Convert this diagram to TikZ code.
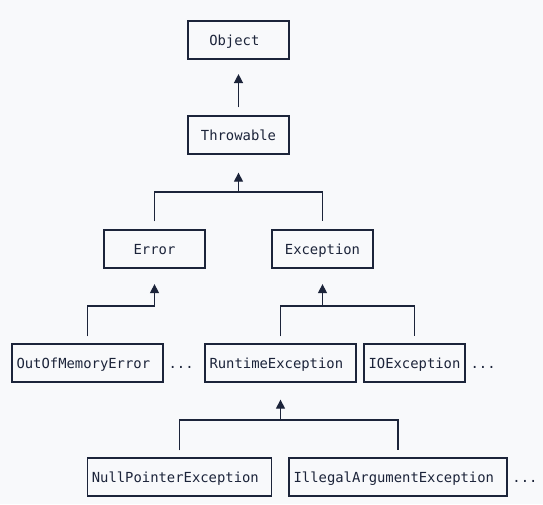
\documentclass[tikz,border=0pt]{standalone}
\usepackage{fontspec}
\setmonofont{DejaVu Sans Mono}
\usetikzlibrary{positioning,arrows.meta}
\definecolor{ink}{RGB}{28,36,58}
\definecolor{paper}{RGB}{248,249,251}
\begin{document}
\begin{tikzpicture}[x=0.75pt, y=-0.75pt,
                box/.style = {draw=ink, line width=1pt, text=ink,
                    font=\ttfamily\fontsize{10.4pt}{12pt}\selectfont,
                    minimum width=75.75pt, minimum height=28.5pt,
                    inner xsep=3.4pt, text height=8pt, text depth=0pt},
                padded/.style = {box, execute at end node={\hphantom{0}}},
                more/.style = {text=ink, inner sep=0pt,
                    font=\ttfamily\fontsize{10.4pt}{12pt}\selectfont},
                link/.style = {draw=ink, line width=1pt},
                inherits/.style = {link, -{Triangle[width=6.8pt, length=6.8pt]}}]
                \fill[paper] (0, 0) rectangle (543, 504);
                \node[padded] (object) at (238.5, 40) {Object};
                \node[box] (throwable) at (238.5, 135) {Throwable};
                \node[box] (error) at (154.5, 249) {Error};
                \node[box] (exception) at (322.5, 249) {Exception};
                \node[padded] (oom) at (87.5, 363) {OutOfMemoryError};
                \node[padded] (runtime) at (280.5, 363) {RuntimeException};
                \node[box] (io) at (414.5, 363) {IOException};
                \node[padded] (npe) at (179.5, 477) {NullPointerException};
                \node[padded] (iae) at (398, 477) {IllegalArgumentException};
                \node[more, base right=3.5pt of oom] (more1) {...};
                \node[more, base right=3.5pt of io] (more2) {...};
                \node[more, base right=3.5pt of iae] (more3) {...};
                \coordinate (j1) at (238.5, 192);
                \coordinate (j2) at (154.5, 306);
                \coordinate (j3) at (322.5, 306);
                \coordinate (j4) at (280.5, 420);
                \draw[inherits, shorten <=6pt, shorten >=10.8pt] (throwable.north) -- (object.south);
                \draw[inherits, shorten <=6pt, shorten >=13.5pt] (error.north) |- (j1) -- (throwable.south);
                \draw[link, shorten >=6pt] (j1) -| (exception.north);
                \draw[inherits, shorten <=5.25pt, shorten >=11.6pt] (oom.north) |- (j2) -- (error.south);
                \draw[inherits, shorten <=5.25pt, shorten >=11.6pt] (runtime.north) |- (j3) -- (exception.south);
                \draw[link, shorten >=5.25pt] (j3) -| (io.north);
                \draw[inherits, shorten <=5.25pt, shorten >=12.75pt] (npe.north) |- (j4) -- (runtime.south);
                \draw[link, shorten >=5.25pt] (j4) -| (iae.north);
            \end{tikzpicture}
\end{document}
